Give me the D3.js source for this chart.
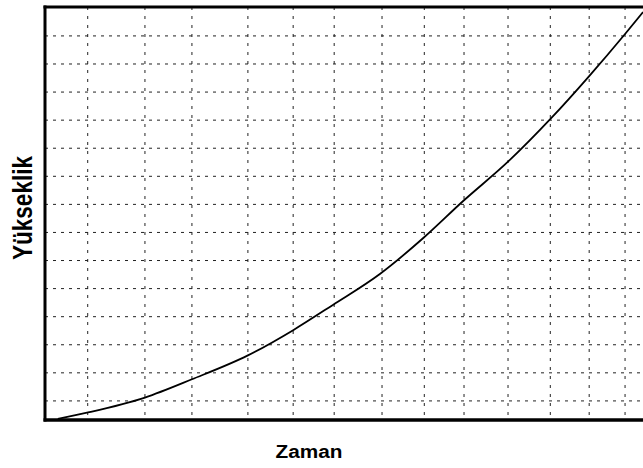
<!DOCTYPE html>
<html>
<head>
<meta charset="utf-8">
<script src="https://cdn.jsdelivr.net/npm/d3@7"></script>
<style>
  body { margin: 0; background: #fff; }
  svg { display: block; }
</style>
</head>
<body>
<div id="chart"></div>
<script>
// curve (zaman, yukseklik)
var zaman      = [0.30, 1.01, 2.34, 3.44, 4.75, 5.81, 6.74, 7.84, 8.87, 9.79, 10.84, 11.85, 12.74, 13.58, 14.0];
var yukseklik  = [0.04, 0.27, 0.80, 1.45, 2.30, 3.20, 4.10, 5.20, 6.50, 7.80, 9.20, 10.75, 12.25, 13.75, 14.53];

// grid positions (the scan is a bit uneven on x)
var xGrid = [1.0, 2.34, 3.44, 4.75, 5.81, 6.77, 7.89, 8.88, 9.81, 10.84, 11.83, 12.74, 13.58];
var yGrid = [0.68, 1.68, 2.68, 3.68, 4.68, 5.68, 6.68, 7.68, 8.68, 9.68, 10.68, 11.68, 12.68, 13.68];

var margin = {top: 7, left: 45},
    width = 643 - margin.left,
    height = 413;

var svg = d3.select("#chart").append("svg")
    .attr("width", 643)
    .attr("height", 468);

var g = svg.append("g")
    .attr("transform", "translate(" + margin.left + "," + margin.top + ")");

var x = d3.scaleLinear().domain([0, 14]).range([0, width]);
var y = d3.scaleLinear().domain([0, 14.71]).range([height, 0]);

// dashed grid
g.selectAll(".vgrid")
    .data(xGrid)
    .enter().append("line")
    .attr("x1", function(d) { return x(d); })
    .attr("x2", function(d) { return x(d); })
    .attr("y1", 0)
    .attr("y2", height)
    .attr("stroke", "#222")
    .attr("stroke-width", 1)
    .attr("stroke-dasharray", "3,6");

g.selectAll(".hgrid")
    .data(yGrid)
    .enter().append("line")
    .attr("x1", 0)
    .attr("x2", width)
    .attr("y1", function(d) { return y(d); })
    .attr("y2", function(d) { return y(d); })
    .attr("stroke", "#222")
    .attr("stroke-width", 1)
    .attr("stroke-dasharray", "3,5");

// the curve
var pts = zaman.map(function(d, i) { return [d, yukseklik[i]]; });
var line = d3.line()
    .x(function(d) { return x(d[0]); })
    .y(function(d) { return y(d[1]); })
    .curve(d3.curveMonotoneX);

g.append("path")
    .datum(pts)
    .attr("fill", "none")
    .attr("stroke", "#000")
    .attr("stroke-width", 1.8)
    .attr("d", line);

// frame: thick left, top, bottom (right side runs off the page)
g.append("line").attr("x1", 0).attr("x2", 0).attr("y1", -1.5).attr("y2", height + 1.5)
    .attr("stroke", "#000").attr("stroke-width", 3);
g.append("line").attr("x1", -1.5).attr("x2", width + 5).attr("y1", 0).attr("y2", 0)
    .attr("stroke", "#000").attr("stroke-width", 3);
g.append("line").attr("x1", -1.5).attr("x2", width + 5).attr("y1", height).attr("y2", height)
    .attr("stroke", "#000").attr("stroke-width", 3.5);

// axis labels
svg.append("text")
    .attr("transform", "translate(32,208) rotate(-90)")
    .attr("text-anchor", "middle")
    .attr("font-family", "Liberation Sans, Arial, sans-serif")
    .attr("font-weight", "bold")
    .attr("font-size", 27)
    .attr("textLength", 104)
    .attr("lengthAdjust", "spacingAndGlyphs")
    .text("Yükseklik");

svg.append("text")
    .attr("x", 309)
    .attr("y", 458)
    .attr("text-anchor", "middle")
    .attr("font-family", "Liberation Sans, Arial, sans-serif")
    .attr("font-weight", "bold")
    .attr("font-size", 18)
    .attr("textLength", 67)
    .attr("lengthAdjust", "spacingAndGlyphs")
    .text("Zaman");
</script>
</body>
</html>
